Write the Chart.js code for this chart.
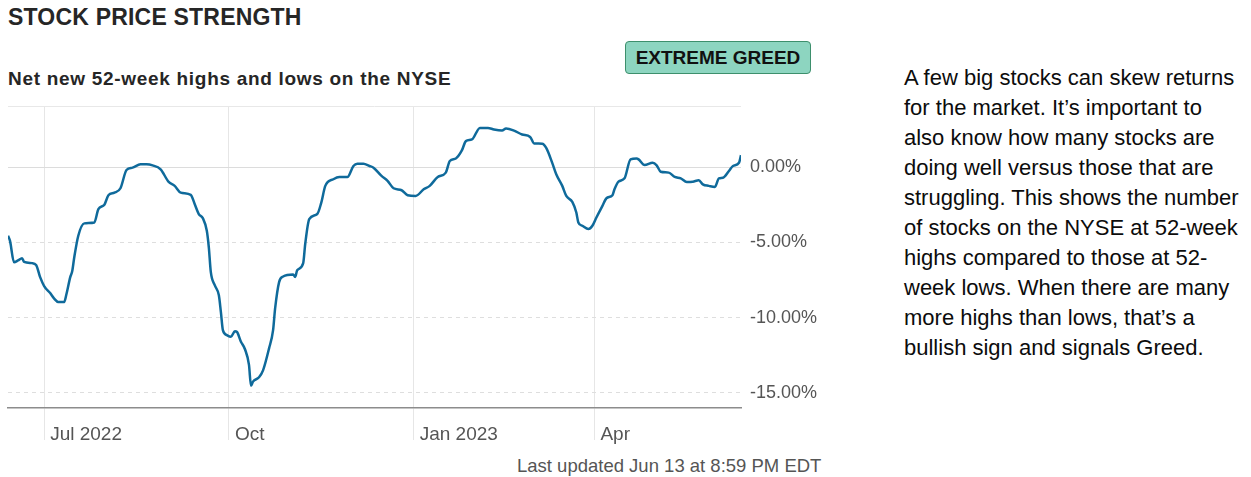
<!DOCTYPE html>
<html lang="en">
<head>
<meta charset="UTF-8">
<title>Stock Price Strength</title>
<script src="https://cdn.jsdelivr.net/npm/chart.js"></script>
<style>
  body { margin:0; background:#fff; width:1251px; height:477px; position:relative; overflow:hidden;
         font-family:'Liberation Sans', Arial, sans-serif; color:#262626; }
  .title { position:absolute; left:8px; top:4px; font-size:23px; font-weight:bold; letter-spacing:0.2px; }
  .subtitle { position:absolute; left:8px; top:68px; font-size:19px; font-weight:bold; letter-spacing:0.7px; }
  .badge { position:absolute; left:625px; top:41px; width:184px; height:31px; background:#8dd5c0;
           border:1px solid #3d8f6c; border-radius:4px; font-size:19px; font-weight:bold; color:#111;
           text-align:center; line-height:31px; }
  .chart-box { position:absolute; left:0; top:87px; width:831px; height:363px; }
  .updated { position:absolute; left:517px; top:455px; font-size:18.5px; color:#555; }
  .blurb { position:absolute; left:904px; top:63px; font-size:22px; line-height:30px; color:#0c0c0c; }
</style>
</head>
<body>
  <div class="title">STOCK PRICE STRENGTH</div>
  <div class="badge">EXTREME GREED</div>
  <div class="subtitle">Net new 52-week highs and lows on the NYSE</div>
  <div class="chart-box"><canvas id="strengthChart"></canvas></div>
  <div class="updated">Last updated Jun 13 at 8:59 PM EDT</div>
  <div class="blurb">
    A few big stocks can skew returns<br>
    for the market. It’s important to<br>
    also know how many stocks are<br>
    doing well versus those that are<br>
    struggling. This shows the number<br>
    of stocks on the NYSE at 52-week<br>
    highs compared to those at 52-<br>
    week lows. When there are many<br>
    more highs than lows, that’s a<br>
    bullish sign and signals Greed.
  </div>

<script>
  // days since the first reading (Jun 13 2022)
  const startDate = '2022-06-13';
  const dayOffsets = [
    0, 1, 3, 5, 7, 8, 12, 14, 16, 18, 21, 23, 25, 28, 29, 31, 32, 33, 35, 38,
    43, 45, 48, 50, 53, 56, 59, 62, 66, 69, 72, 76, 80, 83, 86, 91, 93, 95, 97, 99,
    100, 101, 103, 105, 106, 107, 109, 111, 113, 114, 116, 118, 120, 121, 122, 125, 127, 130, 132, 133,
    135, 137, 142, 143, 144, 147, 148, 150, 154, 156, 158, 162, 165, 169, 172, 174, 177, 180, 182, 186,
    189, 192, 196, 199, 203, 207, 210, 214, 218, 220, 223, 226, 228, 231, 235, 239, 242, 246, 248, 252,
    256, 260, 262, 266, 268, 271, 273, 276, 278, 281, 283, 284, 286, 289, 291, 293, 296, 298, 301, 302,
    304, 307, 310, 313, 314, 317, 321, 323, 325, 329, 332, 335, 338, 341, 344, 346, 349, 352, 354, 356,
    359, 361, 364, 365
  ];
  // net new 52-week highs minus lows, % of NYSE issues
  const netHighsLows = [
    -4.56, -4.9, -6.32, -6.2, -6.05, -6.3, -6.38, -6.5, -7.31, -7.9, -8.37, -8.74, -8.96, -8.96, -8.5, -7.31, -6.9, -5.99, -4.56, -3.74,
    -3.68, -2.8, -2.5, -1.87, -1.7, -1.41, -0.2, -0.04, 0.18, 0.18, 0.11, -0.15, -0.99, -1.25, -1.7, -1.85, -2.47, -3.12, -3.39, -4.23,
    -5.33, -6.98, -7.86, -8.52, -9.62, -10.83, -11.16, -11.27, -10.9, -10.95, -11.6, -12.1, -13.14, -14.53, -14.25, -13.96, -13.5, -12.04, -10.83, -9.4,
    -7.64, -7.27, -7.13, -7.3, -6.86, -6.38, -5.11, -3.46, -3.12, -2.36, -1.25, -0.81, -0.66, -0.66, 0.07, 0.22, 0.22, 0.07, -0.04, -0.59,
    -0.92, -1.41, -1.54, -1.87, -1.92, -1.48, -1.25, -0.66, -0.37, 0.4, 0.57, 1.1, 1.72, 1.83, 2.6, 2.6, 2.49, 2.42, 2.56, 2.42,
    2.16, 2.0, 1.57, 1.55, 1.27, 0.28, -0.48, -1.25, -1.92, -2.31, -3.02, -3.68, -3.9, -4.12, -3.9, -3.35, -2.58, -2.07, -1.87, -1.48,
    -0.97, -0.75, 0.51, 0.57, 0.51, 0.13, 0.28, 0.11, -0.31, -0.37, -0.66, -0.75, -0.99, -0.97, -0.88, -1.15, -1.25, -1.32, -0.75, -0.71,
    -0.26, 0.07, 0.28, 0.79
  ];
  const tickDates = ['2022-07-01', '2022-10-01', '2023-01-01', '2023-04-01'];
  const tickLabels = ['Jul 2022', 'Oct', 'Jan 2023', 'Apr'];
  const yTicks = [-15, -10, -5, 0];
  const yMin = -16, yMax = 4;

  function daysFromStart(d) {
    return Math.round((Date.parse(d) - Date.parse(startDate)) / 86400000);
  }
  const tickDays = tickDates.map(daysFromStart);

  const points = dayOffsets.map((d, i) => ({ x: d, y: netHighsLows[i] }));

  new Chart(document.getElementById('strengthChart'), {
    type: 'line',
    data: {
      datasets: [{
        data: points,
        borderColor: '#0f6a9b',
        borderWidth: 2.5,
        pointRadius: 0,
        tension: 0.3,
        cubicInterpolationMode: 'monotone'
      }]
    },
    options: {
      responsive: true,
      maintainAspectRatio: false,
      animation: false,
      layout: { padding: { left: 8, top: 1, right: 0, bottom: 0 } },
      plugins: { legend: { display: false }, tooltip: { enabled: false } },
      scales: {
        x: {
          type: 'linear',
          min: 0,
          max: 365,
          afterBuildTicks: s => { s.ticks = tickDays.map(v => ({ value: v })); },
          afterFit: s => { s.height = 42; },
          grid: { color: '#e6e6e6', lineWidth: 1, tickLength: 32 },
          border: { display: true, color: '#8c8c8c', width: 1.5 },
          ticks: {
            align: 'start',
            labelOffset: 6,
            padding: -17,
            maxRotation: 0,
            color: '#555',
            font: { family: "'Liberation Sans', Arial", size: 19 },
            callback: v => tickLabels[tickDays.indexOf(v)] || ''
          }
        },
        y: {
          position: 'right',
          min: yMin,
          max: yMax,
          afterBuildTicks: s => { s.ticks = [yMin].concat(yTicks, [yMax]).map(v => ({ value: v })); },
          afterFit: s => { s.width = 90; },
          grid: {
            drawTicks: false,
            lineWidth: 1,
            color: c => {
              const v = c.tick ? c.tick.value : null;
              if (v === yMin) return 'rgba(0,0,0,0)';
              if (v === 0) return '#dcdcdc';
              if (v === yMax) return '#e8e8e8';
              return '#dedede';
            }
          },
          border: {
            display: false,
            dash: c => {
              const v = c.tick ? c.tick.value : null;
              return (v === 0 || v === yMax || v === null) ? [] : [4, 4];
            }
          },
          ticks: {
            padding: 9,
            color: '#555',
            font: { family: "'Liberation Sans', Arial", size: 18 },
            callback: v => yTicks.includes(v) ? v.toFixed(2) + '%' : ''
          }
        }
      }
    }
  });
</script>
</body>
</html>
